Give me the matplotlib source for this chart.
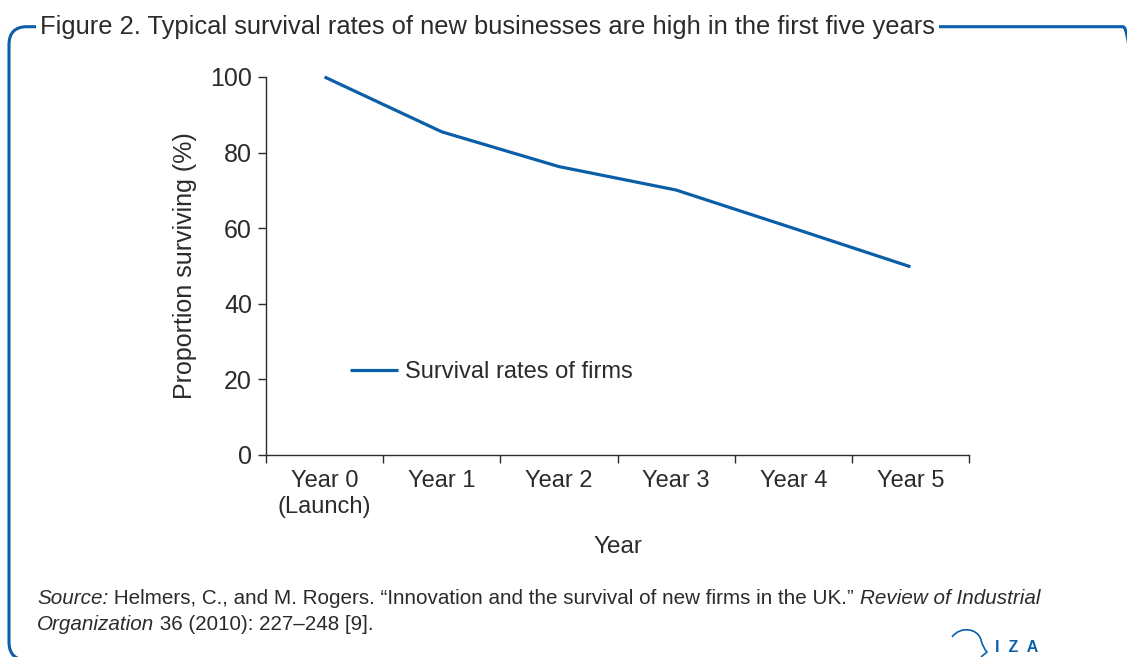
import matplotlib.pyplot as plt
from matplotlib.patches import FancyBboxPatch, PathPatch
from matplotlib.path import Path
from matplotlib.transforms import Affine2D

# data
years = ['Year 0\n(Launch)', 'Year 1', 'Year 2', 'Year 3', 'Year 4', 'Year 5']
survival = [100, 85.5, 76.3, 70.1, 60.0, 49.8]

BLUE = '#0b5fa8'
GREY = '#2b2b2b'
FONT = 'Liberation Sans'

plt.rcParams['font.family'] = FONT
plt.rcParams['text.color'] = GREY
plt.rcParams['axes.labelcolor'] = GREY
plt.rcParams['xtick.color'] = GREY
plt.rcParams['ytick.color'] = GREY

W, H = 1127, 657
fig = plt.figure(figsize=(W / 100, H / 100), dpi=100)
ax = fig.add_axes([266 / W, 1 - 455 / H, 703 / W, 378 / H])

x = list(range(len(years)))
ax.plot(x, survival, color=BLUE, lw=2.3, label='Survival rates of firms',
        solid_capstyle='butt', clip_on=False)

ax.set_xlim(-0.5, len(years) - 0.5)
ax.set_ylim(0, 100)
ax.set_yticks([0, 20, 40, 60, 80, 100])
ax.set_xticks(x)
ax.set_xticklabels(years)
ax.set_xticks([i - 0.5 for i in range(len(years) + 1)], minor=True)
ax.tick_params(axis='x', which='major', length=0, pad=11, labelsize=17)
ax.tick_params(axis='x', which='minor', length=6, width=1.0, direction='out')
ax.tick_params(axis='y', length=6, width=1.0, pad=4, labelsize=18)
for s in ['top', 'right']:
    ax.spines[s].set_visible(False)
for s in ['left', 'bottom']:
    ax.spines[s].set_linewidth(1.0)
    ax.spines[s].set_color(GREY)

ax.set_ylabel('Proportion surviving (%)', fontsize=18)
ax.yaxis.set_label_coords((185 - 266) / 703, 0.5)
ax.set_xlabel('Year', fontsize=17.5)
ax.xaxis.set_label_coords(0.5, (455 - 547) / 378)
ax.xaxis.label.set_va('center')
ax.yaxis.label.set_va('center')

ax.legend(loc='center left', bbox_to_anchor=((350 - 266) / 703, (455 - 372) / 378),
          frameon=False, borderpad=0, borderaxespad=0, handlelength=2.05,
          handletextpad=0.3, fontsize=17)

# rounded frame; its right side sits past the image edge
frame = FancyBboxPatch((0.09, -0.03), 11.32, 6.333,
                       boxstyle='round,pad=0,rounding_size=0.18',
                       transform=fig.dpi_scale_trans, fill=False,
                       edgecolor=BLUE, lw=2.2, clip_on=False)
fig.add_artist(frame)

fig.text(40 / W, 1 - 27 / H,
         'Figure 2. Typical survival rates of new businesses are high in the first five years',
         fontsize=18.4, va='center', ha='left',
         bbox=dict(facecolor='white', edgecolor='none', pad=3))

# source note with mixed italics
renderer = fig.canvas.get_renderer()


def write_line(pieces, x0, y0):
    xp = x0
    for txt, style in pieces:
        t = fig.text(xp / W, 1 - y0 / H, txt, fontsize=14.9, style=style,
                     va='baseline', ha='left')
        xp += t.get_window_extent(renderer).width


write_line([('Source:', 'italic'),
            (' Helmers, C., and M. Rogers. \u201cInnovation and the survival of new firms in the UK.\u201d ', 'normal'),
            ('Review of Industrial', 'italic')], 37, 604)
write_line([('Organization', 'italic'), (' 36 (2010): 227\u2013248 [9].', 'normal')], 37, 630)

# IZA mark: small head outline plus letters
verts = [(952, 637), (960, 626), (978, 628), (981, 640),
         (983, 648), (987, 652), (981, 657)]
codes = [Path.MOVETO, Path.CURVE4, Path.CURVE4, Path.CURVE4,
         Path.CURVE3, Path.CURVE3, Path.LINETO]
to_fig = Affine2D().scale(1 / W, -1 / H).translate(0, 1) + fig.transFigure
fig.add_artist(PathPatch(Path(verts, codes), fill=False, edgecolor=BLUE,
                         lw=1.2, transform=to_fig, clip_on=False))
fig.text(995 / W, 1 - 648 / H, 'I  Z  A', fontsize=11.5, color=BLUE,
         fontweight='bold', va='center', ha='left')

fig.savefig('out.png', dpi=100)
